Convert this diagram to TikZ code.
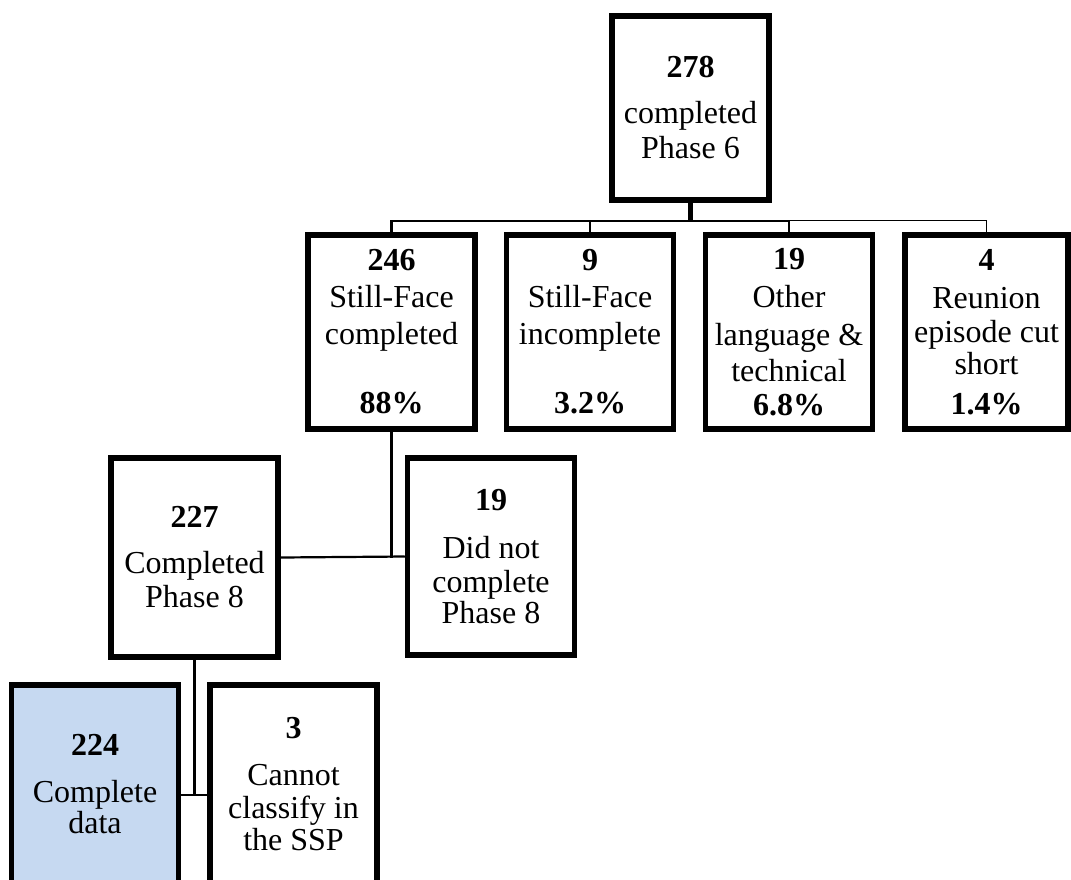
\documentclass[tikz,border=0pt]{standalone}
\usepackage{fontspec}
\setmainfont{Liberation Serif}
\usepackage{tikz}
\usetikzlibrary{calc}
\usepackage{xcolor}
\definecolor{datablue}{RGB}{198,217,241}

\begin{document}
\begin{tikzpicture}[x=1pt,y=1pt,
  box/.style={rectangle,draw,line width=5.5pt,minimum width=167pt,minimum height=194pt,align=center,inner sep=0pt,font=\fontsize{32}{34}\selectfont},
  link/.style={line width=2.2pt},
  thinlink/.style={line width=1.2pt}
]
\useasboundingbox (0,0) rectangle (1071,-879);
\clip (0,0) rectangle (1071,-879);
\node[box,minimum width=157pt,minimum height=184pt] (t0) at (690.5,-108) {\textbf{278}\\[12pt]completed\\[1pt]Phase 6};
\node[box] (a1) at (391.5,-332) {\textbf{246}\\[3pt]Still-Face\\[3pt]completed\\[35pt]\textbf{88\%}};
\node[box] (a2) at (590,-332) {\textbf{9}\\[3pt]Still-Face\\[3pt]incomplete\\[35pt]\textbf{3.2\%}};
\node[box] (a3) at (789,-332) {\textbf{19}\\[4pt]Other\\[4pt]language \&\\[2pt]technical\\[0pt]\textbf{6.8\%}};
\node[box,minimum width=163pt] (a4) at (986.5,-332) {\textbf{4}\\[4pt]Reunion\\[0pt]episode cut\\[-2pt]short\\[6pt]\textbf{1.4\%}};
\node[box,minimum height=199pt] (b1) at (194.5,-557.5) {\textbf{227}\\[12pt]Completed\\Phase 8};
\node[box,minimum height=197pt] (b2) at (491,-556.5) {\textbf{19}\\[14pt]Did not\\complete\\[-3pt]Phase 8};
\node[box,fill=datablue,minimum height=220pt] (c1) at (95,-795) {\textbf{224}\\[13pt]Complete\\[-3pt]data\\[-12pt]\mbox{}};
\node[box,minimum height=220pt] (c2) at (293.5,-795) {\textbf{3}\\[13pt]Cannot\\[-1pt]classify in\\[-2pt]the SSP\\[-12pt]\mbox{}};
\coordinate (bar) at ($(t0.south)+(0,-18)$);
\draw[line width=5pt] (t0.south) -- (bar);
\foreach \n in {a1,a2,a3}{
  \draw[link] (bar) -| (\n.north);
}
\draw[thinlink] (bar) -| (a4.north);
\draw[link] (b1.east) -- (b2.west);
\draw[link] (a1.south) -- (a1.south |- b1.east);
\draw[link] (c1.east) -- (c2.west);
\draw[link] (b1.south) -- (b1.south |- c1.east);
\end{tikzpicture}
\end{document}
